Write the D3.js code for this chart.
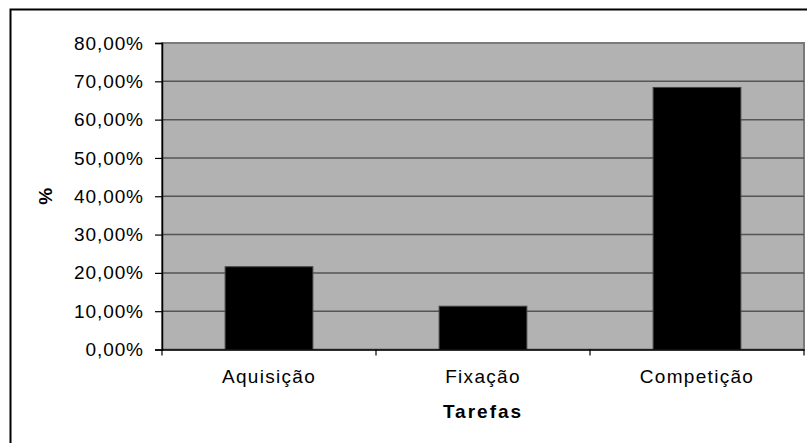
<!DOCTYPE html>
<html><head><meta charset="utf-8">
<script src="https://cdn.jsdelivr.net/npm/d3@7"></script>
<style>html,body{margin:0;padding:0;background:#fff}svg{display:block}</style>
</head><body>
<script>
const categories = ["Aquisição", "Fixação", "Competição"];
const values = [0.216, 0.113, 0.684];
const yTicks = [0, 0.1, 0.2, 0.3, 0.4, 0.5, 0.6, 0.7, 0.8];
const xTitle = "Tarefas";
const yTitle = "%";

const W = 807, H = 443;
const svg = d3.select("body").append("svg").attr("width", W).attr("height", H);
const font = "Arial, 'Liberation Sans', sans-serif";

// outer chart border (extends beyond the visible area)
svg.append("rect").attr("x", 10.5).attr("y", 9.5).attr("width", 820).attr("height", 460)
  .attr("fill", "none").attr("stroke", "#000").attr("stroke-width", 2);

const m = {left: 162, right: 804, top: 43, bottom: 349.5};
const x = d3.scaleBand().domain(categories).range([m.left, m.right]).paddingInner(0).paddingOuter(0);
const y = d3.scaleLinear().domain([0, 0.8]).range([m.bottom, m.top]);

// plot area
svg.append("rect").attr("x", m.left).attr("y", m.top).attr("width", m.right - m.left).attr("height", m.bottom - m.top)
  .attr("fill", "#b2b2b2").attr("stroke", "#7a7a7a").attr("stroke-width", 2);

// gridlines
svg.append("g").selectAll("line").data(yTicks.filter(d => d > 0 && d < 0.8)).join("line")
  .attr("x1", m.left).attr("x2", m.right).attr("y1", d => y(d)).attr("y2", d => y(d))
  .attr("stroke", "#555").attr("stroke-width", 1.5);

// bars
svg.append("g").selectAll("rect").data(values).join("rect")
  .attr("x", (d, i) => x(categories[i]) + x.bandwidth() * 0.295)
  .attr("width", x.bandwidth() * 0.41)
  .attr("y", d => y(d)).attr("height", d => y(0) - y(d))
  .attr("fill", "#000").attr("stroke", "#444").attr("stroke-width", 1);

// y axis
const fmt = d => d3.format(".2f")(d * 100).replace(".", ",") + "%";
const yAxis = svg.append("g").attr("transform", `translate(${m.left},0)`)
  .call(d3.axisLeft(y).tickValues(yTicks).tickFormat(fmt).tickSize(7).tickPadding(12));
yAxis.select(".domain").attr("stroke", "#000").attr("stroke-width", 1.5);
yAxis.selectAll(".tick line").attr("stroke", "#000").attr("stroke-width", 1.2);
yAxis.selectAll("text").attr("font-family", font).attr("font-size", 19)
  .attr("letter-spacing", "0.9px").attr("fill", "#000").attr("dx", "0.9px");

// x axis
const xAxis = svg.append("g").attr("transform", `translate(0,${m.bottom})`)
  .call(d3.axisBottom(x).tickSize(0).tickPadding(20));
xAxis.select(".domain").attr("stroke", "#000").attr("stroke-width", 1.5);
xAxis.selectAll("text").attr("font-family", font).attr("font-size", 19)
  .attr("letter-spacing", "1.3px").attr("fill", "#000");
// category boundary ticks
svg.append("g").selectAll("line").data(categories.concat([null])).join("line")
  .attr("x1", (d, i) => i < categories.length ? x(d) : m.right)
  .attr("x2", (d, i) => i < categories.length ? x(d) : m.right)
  .attr("y1", m.bottom).attr("y2", m.bottom + 6)
  .attr("stroke", "#000").attr("stroke-width", 1.2);

// axis titles
svg.append("text").attr("x", (m.left + m.right) / 2).attr("y", 418)
  .attr("text-anchor", "middle").attr("font-family", font).attr("font-size", 19)
  .attr("font-weight", "bold").attr("letter-spacing", "2px").text(xTitle);
svg.append("text").attr("transform", `translate(52,${(m.top + m.bottom) / 2}) rotate(-90)`)
  .attr("text-anchor", "middle").attr("font-family", font).attr("font-size", 19)
  .attr("font-weight", "bold").text(yTitle);
</script>
</body></html>
